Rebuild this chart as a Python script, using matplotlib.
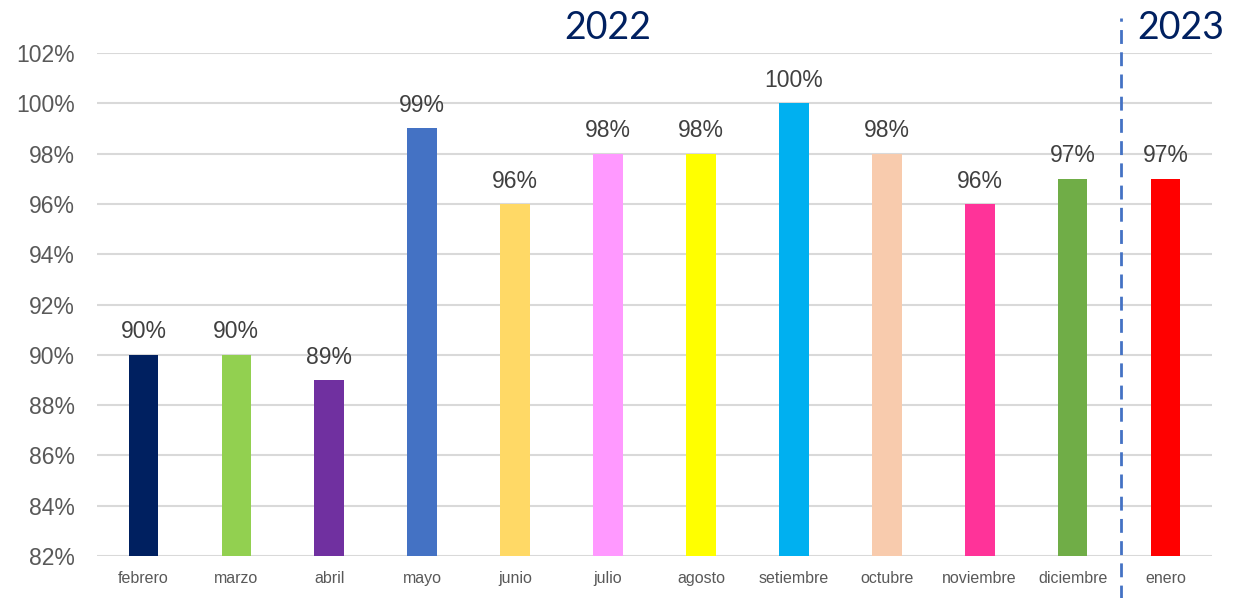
import matplotlib.pyplot as plt
import numpy as np

# data
meses = ["febrero", "marzo", "abril", "mayo", "junio", "julio", "agosto",
         "setiembre", "octubre", "noviembre", "diciembre", "enero"]
valores = [90, 90, 89, 99, 96, 98, 98, 100, 98, 96, 97, 97]
colores = ["#002060", "#92D050", "#7030A0", "#4472C4", "#FFD966", "#FF99FF",
           "#FFFF00", "#00B0F0", "#F8CBAD", "#FF3399", "#70AD47", "#FF0000"]
yticks = list(range(82, 103, 2))

plt.rcParams['font.family'] = ['Liberation Sans', 'DejaVu Sans']

fig = plt.figure(figsize=(12.45, 5.98), dpi=100)
ax = fig.add_axes([97 / 1245, 42 / 598, 1115 / 1245, 503 / 598])

x = np.arange(len(meses))
ax.bar(x, [v - 82 for v in valores], bottom=82, width=0.32, color=colores, zorder=3)

for xi, v in zip(x, valores):
    ax.text(xi, v + 0.45, f"{v}%", ha="center", va="bottom", fontsize=16.5, color="#404040")

ax.set_xlim(-0.5, len(meses) - 0.5)
ax.set_ylim(82, 102)
ax.set_yticks(yticks)
ax.set_yticklabels([f"{t}%" for t in yticks], fontsize=16.5, color="#595959")
ax.set_xticks(x)
ax.set_xticklabels(meses, fontsize=11.5, color="#595959")
ax.tick_params(axis="both", length=0)
ax.tick_params(axis="y", pad=16)
ax.tick_params(axis="x", pad=11)
ax.grid(axis="y", color="#D9D9D9", linewidth=1.5, zorder=0)
for s in ax.spines.values():
    s.set_visible(False)

# year separator
trans = ax.get_xaxis_transform()
ax.plot([10.52, 10.52], [-0.09, 1.07], transform=trans, clip_on=False,
        color="#4472C4", linewidth=2, dashes=(5, 3))

ax.text(5, 1.05, "2022", transform=trans, ha="center", va="center",
        fontsize=27, color="#002060", family=["Lato", "DejaVu Sans"])
ax.text(11.16, 1.05, "2023", transform=trans, ha="center", va="center",
        fontsize=27, color="#002060", family=["Lato", "DejaVu Sans"])

fig.savefig("out.png", dpi=100)
